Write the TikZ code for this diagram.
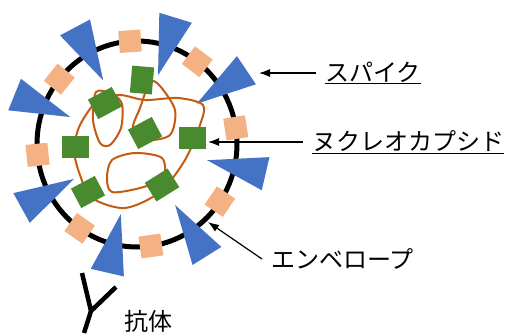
\documentclass[tikz,border=0pt]{standalone}
\usepackage{fontspec}
\newfontfamily\jpfont{Noto Sans CJK JP}
\usetikzlibrary{arrows.meta}
\definecolor{spikeblue}{HTML}{4472C4}
\definecolor{envorange}{HTML}{F4B183}
\definecolor{capgreen}{HTML}{4A8A2F}
\definecolor{rnaorange}{HTML}{C55A11}

\begin{document}
\begin{tikzpicture}[x=1pt,y=1pt,
envsq/.style={fill=envorange,minimum size=22pt,inner sep=0pt},
capsq/.style={fill=capgreen,minimum width=27pt,minimum height=22pt,inner sep=0pt},
rna/.style={draw=rnaorange,line width=2pt},
lbl/.style={font=\jpfont\fontsize{24}{28}\selectfont,anchor=west,inner ysep=1pt,inner xsep=9pt},
pointer/.style={-{Latex[length=11pt,width=8pt]},line width=1.2pt}]
\useasboundingbox (0,-333) rectangle (515,0);
\coordinate (C) at (137,-144);

% envelope
\draw[line width=5pt] (C) ellipse [x radius=100,y radius=103];
\begin{scope}[shift={(C)}]
\foreach \a [count=\i] in {94,53,141,9,186,-34,-125,-82}
  \node[envsq,rotate=\a] (env\i) at (\a:100 and 103) {};
% spikes
\foreach \a in {118,73,34,158,-13,-151,-58,-103}
  \fill[spikeblue,rotate=\a] (72,0) -- (132,17) -- (132,-17) -- cycle;
\end{scope}

% RNA
\draw[rna] plot[smooth cycle] coordinates {(96,-92) (93,-120) (100,-143) (110,-145) (121,-128) (122,-104) (112,-94)};
\draw[rna] plot[smooth cycle] coordinates {(98,-100) (80,-125) (74,-150) (80,-175) (92,-198) (125,-208) (160,-192) (185,-160) (200,-125) (203,-105) (178,-98) (145,-100) (120,-95)};
\draw[rna] plot[smooth cycle] coordinates {(140,-108) (133,-128) (145,-140) (170,-135) (175,-110) (160,-86) (150,-82)};
\draw[rna] plot[smooth cycle] coordinates {(107,-178) (112,-160) (135,-153) (162,-158) (163,-178) (140,-188) (112,-192)};

% nucleocapsid
\node[capsq,rotate=85] (cap1) at (142,-80) {};
\node[capsq,rotate=28] (cap2) at (105,-103) {};
\node[capsq,rotate=28] (cap3) at (145,-133) {};
\node[capsq] (cap4) at (192,-138) {};
\node[capsq] (cap5) at (75,-147) {};
\node[capsq,rotate=28] (cap6) at (88,-192) {};
\node[capsq,rotate=32] (cap7) at (162,-185) {};

% antibody
\coordinate (ab) at (91,-311);
\draw[line width=4.5pt] (82,-273) -- (ab) -- (116,-287);
\draw[line width=4.5pt] (ab) -- (84,-333);

% labels
\node[lbl] (spike) at (316,-73) {\underline{スパイク}};
\node[lbl] (capsid) at (303,-142) {\underline{ヌクレオカプシド}};
\node[lbl] (envelope) at (262,-259) {エンベロープ};
\node[lbl,inner xsep=0pt] (antibody) at (124,-321) {抗体};
\coordinate (spiketip) at (259,-73);
\coordinate (capsidtip) at (208,-142);
\coordinate (envtip) at (208,-222);
\draw[pointer] (spike.west) -- (spiketip);
\draw[pointer] (capsid.west) -- (capsidtip);
\draw[pointer] (envelope.west) -- (envtip);
\end{tikzpicture}
\end{document}
